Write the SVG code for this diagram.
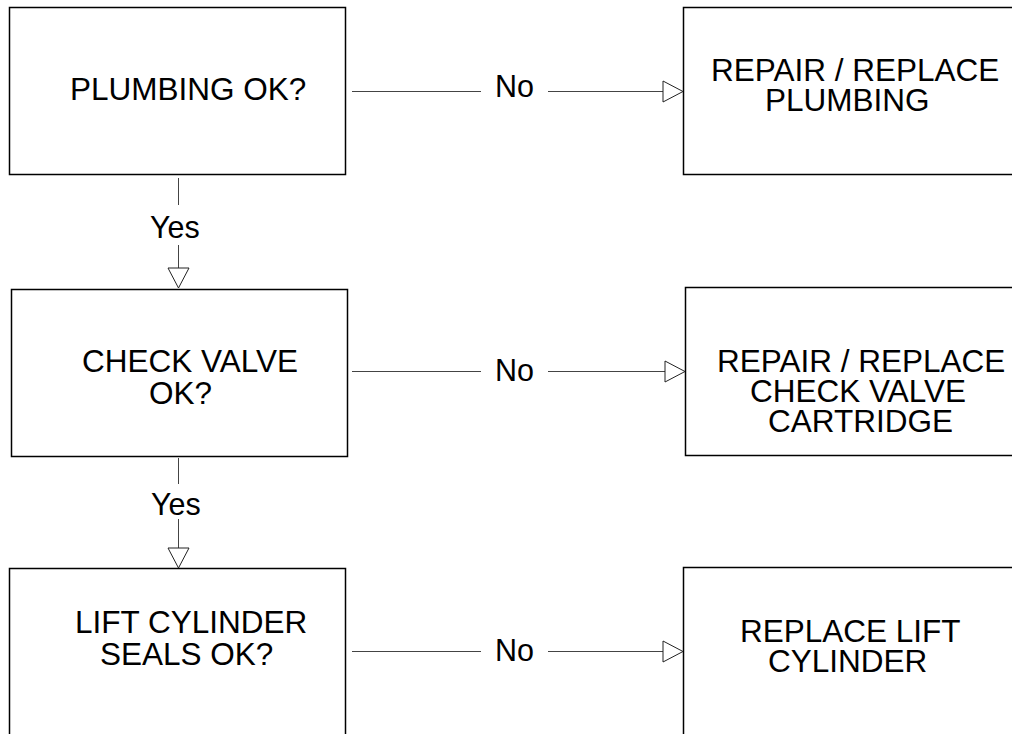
<svg xmlns="http://www.w3.org/2000/svg" width="1012" height="734" viewBox="0 0 1012 734">
<defs>
<style>
.box{fill:#fff;stroke:#000;stroke-width:1.5}
.t{font-family:"Liberation Sans",Arial,sans-serif;font-size:31.5px;fill:#000}
.l{font-family:"Liberation Sans",Arial,sans-serif;font-size:30.5px;fill:#000}
.c{stroke:#444;stroke-width:1;fill:none}
.ah{fill:#fff;stroke:#222;stroke-width:1}
</style>
</defs>
<rect width="1012" height="734" fill="#fff"/>
<g id="n1"><rect class="box" x="9.5" y="7.5" width="336" height="167"/><text class="t" x="70" y="100">PLUMBING OK?</text></g>
<g id="n2"><rect class="box" x="683.5" y="7.5" width="340" height="167"/><text class="t" x="711" y="81">REPAIR / REPLACE</text><text class="t" x="765" y="111">PLUMBING</text></g>
<g id="n3"><rect class="box" x="11.5" y="289.5" width="336" height="167"/><text class="t" x="82" y="372">CHECK VALVE</text><text class="t" x="149" y="404">OK?</text></g>
<g id="n4"><rect class="box" x="685.5" y="287.5" width="340" height="168"/><text class="t" x="717" y="372">REPAIR / REPLACE</text><text class="t" x="750" y="402">CHECK VALVE</text><text class="t" x="768" y="432">CARTRIDGE</text></g>
<g id="n5"><rect class="box" x="9.5" y="568.5" width="336" height="200"/><text class="t" x="75" y="633">LIFT CYLINDER</text><text class="t" x="100" y="665">SEALS OK?</text></g>
<g id="n6"><rect class="box" x="683.5" y="567.5" width="340" height="200"/><text class="t" x="740" y="642">REPLACE LIFT</text><text class="t" x="768" y="672">CYLINDER</text></g>
<g id="connectors">
<line class="c" x1="352" y1="91.5" x2="481" y2="91.5"/><text class="l" x="495" y="97">No</text><line class="c" x1="548" y1="91.5" x2="663" y2="91.5"/><polygon class="ah" points="663,81 683,91.5 663,102"/>
<line class="c" x1="352" y1="371.5" x2="481" y2="371.5"/><text class="l" x="495" y="381">No</text><line class="c" x1="548" y1="371.5" x2="665" y2="371.5"/><polygon class="ah" points="665,361 685,371.5 665,382"/>
<line class="c" x1="352" y1="651.5" x2="481" y2="651.5"/><text class="l" x="495" y="661">No</text><line class="c" x1="548" y1="651.5" x2="663" y2="651.5"/><polygon class="ah" points="663,641 683,651.5 663,662"/>
<line class="c" x1="178.5" y1="178" x2="178.5" y2="205"/><text class="l" x="150" y="238">Yes</text><line class="c" x1="178.5" y1="245" x2="178.5" y2="268"/><polygon class="ah" points="168,268 178.5,288 189,268"/>
<line class="c" x1="178.5" y1="458" x2="178.5" y2="484"/><text class="l" x="151" y="515">Yes</text><line class="c" x1="178.5" y1="519" x2="178.5" y2="548"/><polygon class="ah" points="168,548 178.5,568 189,548"/>
</g>
</svg>
